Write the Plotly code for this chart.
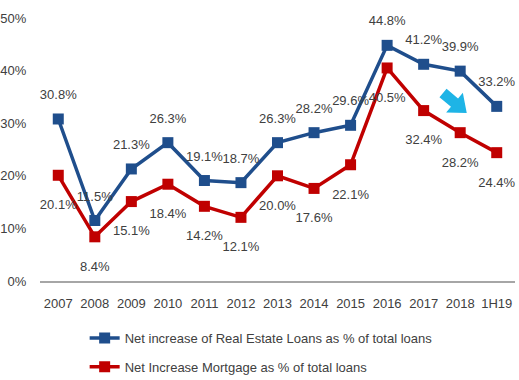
import math
import plotly.graph_objects as go

categories = ["2007", "2008", "2009", "2010", "2011", "2012", "2013",
              "2014", "2015", "2016", "2017", "2018", "1H19"]
real_estate = [30.8, 11.5, 21.3, 26.3, 19.1, 18.7, 26.3, 28.2, 29.6, 44.8, 41.2, 39.9, 33.2]
mortgage = [20.1, 8.4, 15.1, 18.4, 14.2, 12.1, 20.0, 17.6, 22.1, 40.5, 32.4, 28.2, 24.4]
y_ticks = [0, 10, 20, 30, 40, 50]

BLUE = "#1F4E8C"
RED = "#C00000"
TXT = "#404040"
FONT = "Liberation Sans"

fig = go.Figure()
fig.add_trace(go.Scatter(
    x=categories, y=real_estate, mode="lines+markers",
    name="Net increase of Real Estate Loans as % of total loans",
    line=dict(color=BLUE, width=3.5),
    marker=dict(symbol="square", size=11, color=BLUE),
    legendgroup="a", cliponaxis=False,
))
fig.add_trace(go.Scatter(
    x=categories, y=mortgage, mode="lines+markers",
    name="Net Increase Mortgage as % of total loans",
    line=dict(color=RED, width=3.5),
    marker=dict(symbol="square", size=11, color=RED),
    legendgroup="b", cliponaxis=False,
))
# data labels (transparent markers set the label offset)
fig.add_trace(go.Scatter(
    x=categories, y=real_estate, mode="markers+text", showlegend=False,
    marker=dict(size=25, color="rgba(0,0,0,0)"),
    text=[f"{v:.1f}%" for v in real_estate], textposition="top center",
    textfont=dict(size=13, color=TXT, family=FONT),
    hoverinfo="skip", cliponaxis=False,
))
fig.add_trace(go.Scatter(
    x=categories, y=mortgage, mode="markers+text", showlegend=False,
    marker=dict(size=37, color="rgba(0,0,0,0)"),
    text=[f"{v:.1f}%" for v in mortgage], textposition="bottom center",
    textfont=dict(size=13, color=TXT, family=FONT),
    hoverinfo="skip", cliponaxis=False,
))

# decorative cyan block arrow (pixel frame -> paper coords)
L, T, W, H = 40, 18, 475, 263
def P(px, py):
    return (px - L) / W, (T + H - py) / H
cx, cy = 443, 93
ang = math.radians(40)
d = (math.cos(ang), math.sin(ang))
n = (math.sin(ang), -math.cos(ang))
local = [(0, -5.5), (15, -5.5), (15, -13), (31, 0), (15, 13), (15, 5.5), (0, 5.5)]
pts = []
for u, v in local:
    px = cx + u * d[0] + v * n[0]
    py = cy + u * d[1] + v * n[1]
    pts.append(P(px, py))
path = "M " + " L ".join(f"{x:.4f},{y:.4f}" for x, y in pts) + " Z"
fig.add_shape(type="path", path=path, xref="paper", yref="paper",
              fillcolor="#1EB4E6", line=dict(width=0))

fig.update_layout(
    width=519, height=380,
    margin=dict(l=L, r=519 - L - W, t=T, b=380 - T - H, autoexpand=False),
    paper_bgcolor="white", plot_bgcolor="white",
    font=dict(family=FONT, size=13, color=TXT),
    showlegend=True,
    legend=dict(
        orientation="v", x=0.094, xanchor="left",
        yref="container", y=1 - 323 / 380, yanchor="top",
        font=dict(size=13, color=TXT, family=FONT),
        tracegroupgap=9, traceorder="grouped",
        bgcolor="rgba(0,0,0,0)",
    ),
    xaxis=dict(
        type="category", range=[-0.5, 12.5], showgrid=False,
        showline=True, linecolor="#A6A6A6", linewidth=1.5,
        ticks="outside", ticklen=10, tickcolor="rgba(0,0,0,0)",
        tickfont=dict(size=13, color=TXT), zeroline=False,
    ),
    yaxis=dict(
        range=[0, 50], tickvals=y_ticks,
        ticktext=[f"{v}%" for v in y_ticks],
        showgrid=False, zeroline=False, showline=False,
        tickfont=dict(size=13, color=TXT),
        ticks="outside", ticklen=10, tickcolor="rgba(0,0,0,0)",
    ),
)

fig.write_html("out.html", config={"displayModeBar": False},
               post_script="document.body.style.margin='0';")
